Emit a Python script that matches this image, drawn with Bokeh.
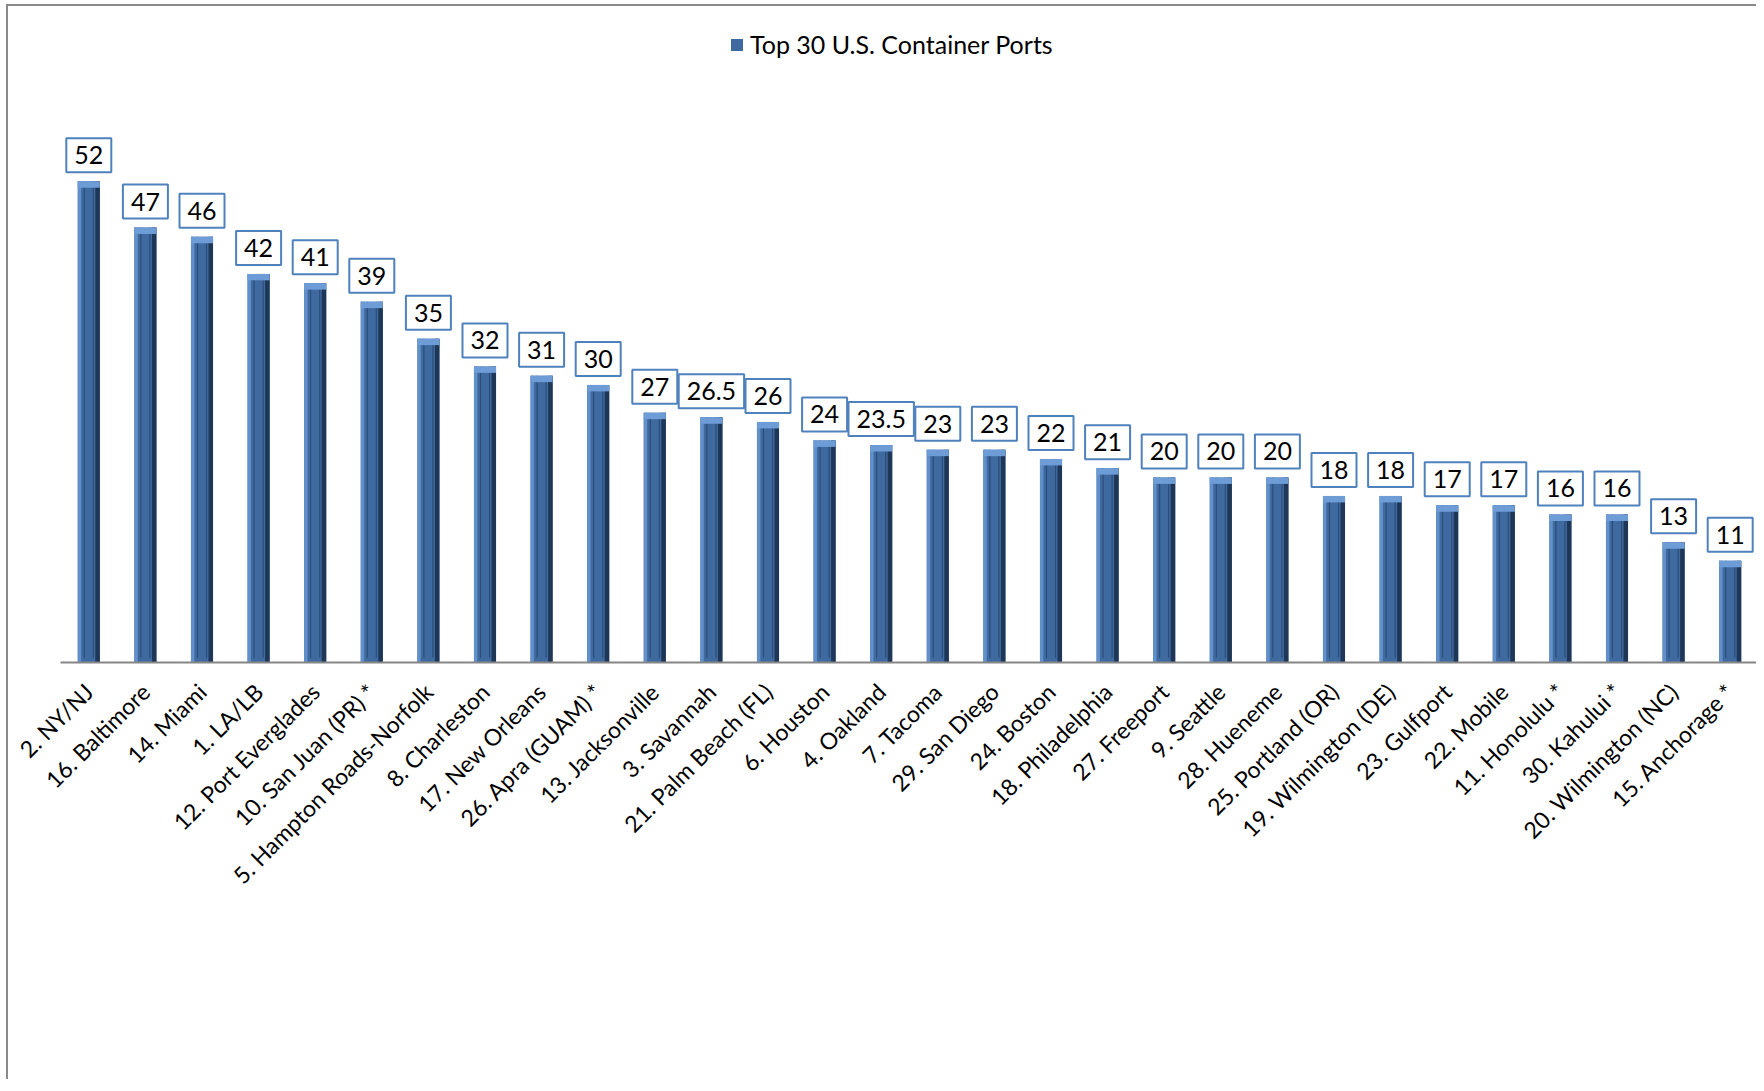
import math
from bokeh.plotting import figure
from bokeh.models import ColumnDataSource, FactorRange, Range1d, Legend, LegendItem
from bokeh.transform import dodge
from bokeh.core.properties import value
from bokeh.embed import file_html
from bokeh.resources import INLINE

ports = ["2. NY/NJ", "16. Baltimore", "14. Miami", "1. LA/LB", "12. Port Everglades",
         "10. San Juan (PR) *", "5. Hampton Roads-Norfolk", "8. Charleston", "17. New Orleans",
         "26. Apra (GUAM) *", "13. Jacksonville", "3. Savannah", "21. Palm Beach (FL)",
         "6. Houston", "4. Oakland", "7. Tacoma", "29. San Diego", "24. Boston",
         "18. Philadelphia", "27. Freeport", "9. Seattle", "28. Hueneme", "25. Portland (OR)",
         "19. Wilmington (DE)", "23. Gulfport", "22. Mobile", "11. Honolulu *", "30. Kahului *",
         "20. Wilmington (NC)", "15. Anchorage *"]
values = [52, 47, 46, 42, 41, 39, 35, 32, 31, 30, 27, 26.5, 26, 24, 23.5, 23, 23, 22,
          21, 20, 20, 20, 18, 18, 17, 17, 16, 16, 13, 11]
labels = [("%g" % v) for v in values]
series_name = "Top 30 U.S. Container Ports"

cap = 0.7
src = ColumnDataSource(dict(port=ports, val=values, lbl=labels,
                            capb=[v - cap for v in values]))

FONT = "Lato"

p = figure(x_range=FactorRange(*ports, range_padding=0), y_range=Range1d(0, 69.6),
           width=1750, height=1075, output_backend="svg", toolbar_location=None,
           min_border_left=52, min_border_right=0, min_border_top=12, min_border_bottom=419)
p.outline_line_color = None
p.xgrid.visible = False
p.ygrid.visible = False
p.yaxis.visible = False
p.styles = {"border-top": "2px solid #8a8a8a", "border-left": "2px solid #8a8a8a",
            "margin-top": "4px", "margin-left": "6px"}

# bars (layered to imitate bevelled columns)
base = p.vbar(x="port", top="val", width=0.39, source=src, fill_color="#3F6AA0", line_color=None)
p.vbar(x=dodge("port", -0.165, range=p.x_range), top="val", width=0.06, source=src,
       fill_color="#6290CA", line_color=None)
p.vbar(x=dodge("port", 0.155, range=p.x_range), top="val", width=0.08, source=src,
       fill_color="#1F3757", line_color=None)
p.vbar(x=dodge("port", -0.08, range=p.x_range), top="val", bottom=0.5, width=0.02, source=src,
       fill_color="#2B4C78", line_color=None)
p.vbar(x=dodge("port", 0.08, range=p.x_range), top="val", bottom=0.5, width=0.02, source=src,
       fill_color="#2B4C78", line_color=None)
p.vbar(x="port", top="val", bottom="capb", width=0.39, source=src,
       fill_color="#6E9CD6", line_color=None)

# value labels in boxes
p.text(x="port", y="val", text="lbl", source=src, text_align="center", text_baseline="bottom",
       y_offset=-9, text_font=value(FONT), text_font_size="25px", text_color="black",
       background_fill_color="white", border_line_color="#4F81BD", border_line_width=2,
       padding=8)

ax = p.xaxis[0]
ax.axis_line_color = "#868686"
ax.axis_line_width = 2
ax.major_tick_line_color = None
ax.minor_tick_line_color = None
ax.major_label_orientation = math.pi / 4
ax.major_label_text_font = FONT
ax.major_label_text_font_size = "23px"
ax.major_label_text_color = "black"
ax.major_label_standoff = 19

legend = Legend(items=[LegendItem(label=series_name, renderers=[base])],
                location=(669, 603), orientation="horizontal",
                label_text_font=FONT, label_text_font_size="25px", label_text_color="black",
                glyph_width=15, glyph_height=15, border_line_color=None,
                background_fill_alpha=0, margin=0, padding=4, label_standoff=6)
p.add_layout(legend)

open("out.html", "w").write(file_html(p, INLINE))
